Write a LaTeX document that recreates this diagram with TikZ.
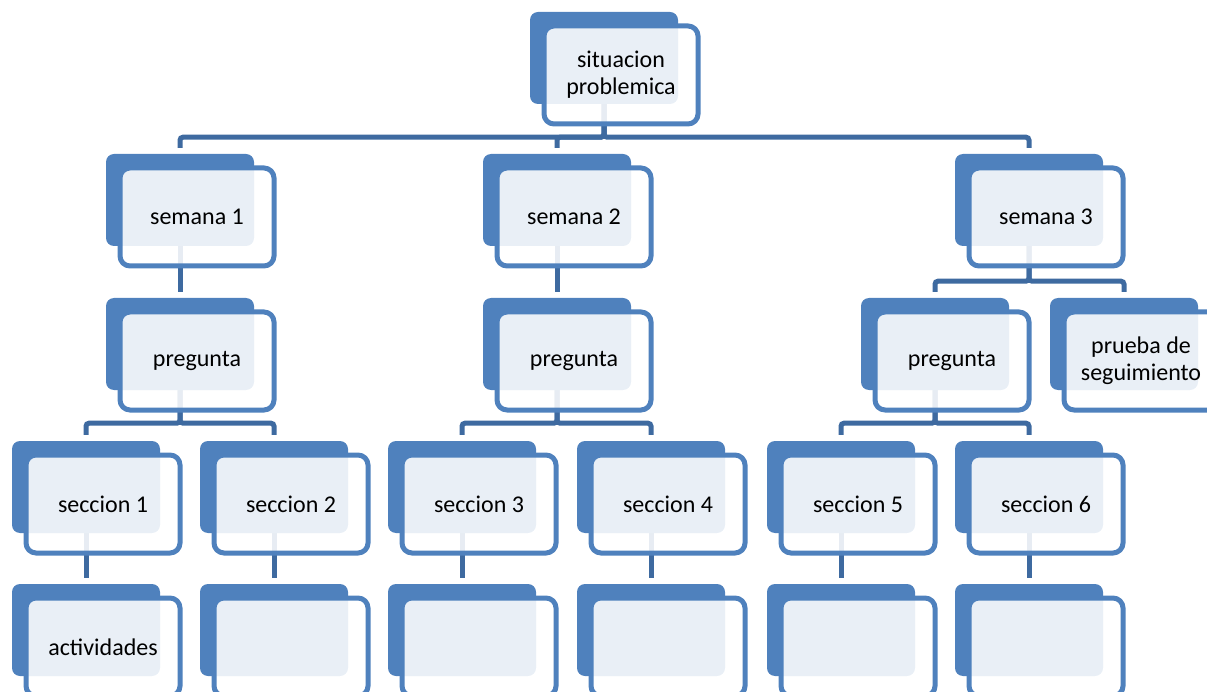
\documentclass[tikz,border=0pt]{standalone}
\usepackage{fontspec}
\setmainfont{Carlito}
\usetikzlibrary{backgrounds}

\definecolor{boxblue}{RGB}{79,129,189}
\definecolor{lineblue}{RGB}{62,106,160}

\tikzset{
  backbox/.style={fill=boxblue, rounded corners=8pt, minimum width=148pt, minimum height=92pt, inner sep=0pt},
  framebox/.style={draw=boxblue, line width=5pt, fill=white, fill opacity=0.88, text opacity=1,
    rounded corners=10pt, minimum width=154pt, minimum height=98pt, inner sep=0pt,
    align=center, font=\fontsize{24}{27}\selectfont},
  conn/.style={draw=lineblue, line width=5pt, rounded corners=3pt}
}

\begin{document}
\begin{tikzpicture}[x=1pt, y=-1pt]
            \useasboundingbox (0,0) rectangle (1207,692);

            % top
            \node[backbox] (topb) at (604,58) {};
            \node[framebox] (top) at ([shift={(17,17)}]topb.center) {situacion\\problemica};

            % semanas
            \node[backbox] (w1b) at (180,200) {};
            \node[framebox] (w1) at ([shift={(17,17)}]w1b.center) {semana 1};
            \node[backbox] (w2b) at (557,200) {};
            \node[framebox] (w2) at ([shift={(17,17)}]w2b.center) {semana 2};
            \node[backbox] (w3b) at (1029,200) {};
            \node[framebox] (w3) at ([shift={(17,17)}]w3b.center) {semana 3};

            % preguntas
            \node[backbox] (p1b) at (180,344) {};
            \node[framebox] (p1) at ([shift={(17,17)}]p1b.center) {pregunta};
            \node[backbox] (p2b) at (557,344) {};
            \node[framebox] (p2) at ([shift={(17,17)}]p2b.center) {pregunta};
            \node[backbox] (p3b) at (935,344) {};
            \node[framebox] (p3) at ([shift={(17,17)}]p3b.center) {pregunta};
            \node[backbox] (tb) at (1124,344) {};
            \node[framebox] (t) at ([shift={(17,17)}]tb.center) {prueba de\\seguimiento};

            % secciones
            \node[backbox] (s1b) at (86,487) {};
            \node[framebox] (s1) at ([shift={(17,17)}]s1b.center) {seccion 1};
            \node[backbox] (s2b) at (274,487) {};
            \node[framebox] (s2) at ([shift={(17,17)}]s2b.center) {seccion 2};
            \node[backbox] (s3b) at (462,487) {};
            \node[framebox] (s3) at ([shift={(17,17)}]s3b.center) {seccion 3};
            \node[backbox] (s4b) at (651,487) {};
            \node[framebox] (s4) at ([shift={(17,17)}]s4b.center) {seccion 4};
            \node[backbox] (s5b) at (841,487) {};
            \node[framebox] (s5) at ([shift={(17,17)}]s5b.center) {seccion 5};
            \node[backbox] (s6b) at (1029,487) {};
            \node[framebox] (s6) at ([shift={(17,17)}]s6b.center) {seccion 6};

            % actividades
            \node[backbox] (a1b) at (86,630) {};
            \node[framebox] (a1) at ([shift={(17,17)}]a1b.center) {actividades};
            \node[backbox] (a2b) at (274,630) {};
            \node[framebox] (a2) at ([shift={(17,17)}]a2b.center) {};
            \node[backbox] (a3b) at (462,630) {};
            \node[framebox] (a3) at ([shift={(17,17)}]a3b.center) {};
            \node[backbox] (a4b) at (651,630) {};
            \node[framebox] (a4) at ([shift={(17,17)}]a4b.center) {};
            \node[backbox] (a5b) at (841,630) {};
            \node[framebox] (a5) at ([shift={(17,17)}]a5b.center) {};
            \node[backbox] (a6b) at (1029,630) {};
            \node[framebox] (a6) at ([shift={(17,17)}]a6b.center) {};

            % connectors
            \begin{scope}[on background layer]
            \draw[conn] (topb.south) -- ++(0,33) -| ([yshift=6pt]w1b.north);
            \draw[conn] (topb.south) -- ++(0,33) -| ([yshift=6pt]w2b.north);
            \draw[conn] (topb.south) -- ++(0,33) -| ([yshift=6pt]w3b.north);

            \draw[conn] (w1b.south) -- ([yshift=6pt]p1b.north);
            \draw[conn] (w2b.south) -- ([yshift=6pt]p2b.north);
            \draw[conn] (w3b.south) -- ++(0,35) -| ([yshift=6pt]p3b.north);
            \draw[conn] (w3b.south) -- ++(0,35) -| ([yshift=6pt]tb.north);

            \draw[conn] (p1b.south) -- ++(0,33) -| ([yshift=6pt]s1b.north);
            \draw[conn] (p1b.south) -- ++(0,33) -| ([yshift=6pt]s2b.north);
            \draw[conn] (p2b.south) -- ++(0,33) -| ([yshift=6pt]s3b.north);
            \draw[conn] (p2b.south) -- ++(0,33) -| ([yshift=6pt]s4b.north);
            \draw[conn] (p3b.south) -- ++(0,33) -| ([yshift=6pt]s5b.north);
            \draw[conn] (p3b.south) -- ++(0,33) -| ([yshift=6pt]s6b.north);

            \draw[conn] (s1b.south) -- ([yshift=6pt]a1b.north);
            \draw[conn] (s2b.south) -- ([yshift=6pt]a2b.north);
            \draw[conn] (s3b.south) -- ([yshift=6pt]a3b.north);
            \draw[conn] (s4b.south) -- ([yshift=6pt]a4b.north);
            \draw[conn] (s5b.south) -- ([yshift=6pt]a5b.north);
            \draw[conn] (s6b.south) -- ([yshift=6pt]a6b.north);
            \end{scope}
        \end{tikzpicture}
\end{document}
